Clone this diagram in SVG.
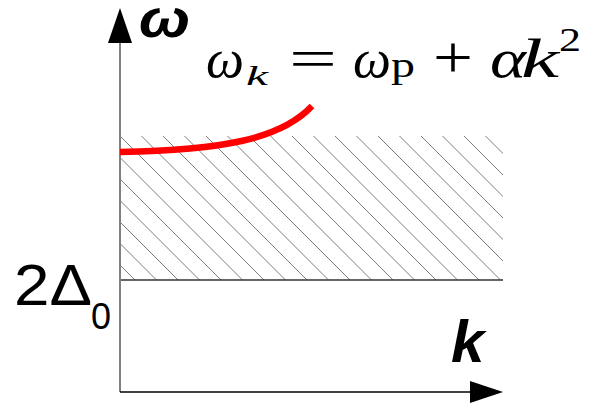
<svg xmlns="http://www.w3.org/2000/svg" width="590" height="403" viewBox="0 0 590 403">
<style>
.serif{font-family:"Liberation Serif","Times New Roman",serif;fill:#000}
.it{font-style:italic}
.sans{font-family:"Liberation Sans",Arial,sans-serif;fill:#000}
.bi{font-weight:bold;font-style:italic}
.hatch{stroke:#6e6e6e;stroke-width:0.9;fill:none}
</style>
<defs>
<clipPath id="band"><rect x="120" y="136" width="383" height="144"/></clipPath>
</defs>
<rect width="590" height="403" fill="#fff"/>
<g id="gap-region">
<path class="hatch" clip-path="url(#band)" d="M-40.5,126 l170,170 M-19,126 l170,170 M2.5,126 l170,170 M24,126 l170,170 M45.5,126 l170,170 M67,126 l170,170 M88.5,126 l170,170 M110,126 l170,170 M131.5,126 l170,170 M153,126 l170,170 M174.5,126 l170,170 M196,126 l170,170 M217.5,126 l170,170 M239,126 l170,170 M260.5,126 l170,170 M282,126 l170,170 M303.5,126 l170,170 M325,126 l170,170 M346.5,126 l170,170 M368,126 l170,170 M389.5,126 l170,170 M411,126 l170,170 M432.5,126 l170,170 M454,126 l170,170 M475.5,126 l170,170"/>
<line x1="120" y1="280" x2="503" y2="280" stroke="#333" stroke-width="1.5"/>
</g>
<g id="axes">
<line x1="120" y1="392" x2="120" y2="40" stroke="#808080" stroke-width="2"/>
<polygon points="120,8 108,43 132,43" fill="#000"/>
<line x1="120" y1="392" x2="472" y2="392" stroke="#000" stroke-width="1.5"/>
<polygon points="503,392 470,381 470,403" fill="#000"/>
</g>
<g id="dispersion">
<path d="M120,152 C220,150 280,140 312,106" fill="none" stroke="#ff0000" stroke-width="6.5"/>
</g>
<g id="labels">
<text class="sans bi" x="139" y="37" font-size="54" textLength="51" lengthAdjust="spacingAndGlyphs">ω</text>
<text class="sans bi" x="451" y="362" font-size="60">k</text>
<text class="sans" x="14" y="305" font-size="58" textLength="78" lengthAdjust="spacingAndGlyphs">2Δ</text>
<text class="sans" x="91" y="329" font-size="36">0</text>
</g>
<g id="formula">
<text class="serif it" x="206" y="77" font-size="54" textLength="38" lengthAdjust="spacingAndGlyphs">ω</text>
<text class="serif it" x="246" y="85" font-size="27" textLength="22" lengthAdjust="spacingAndGlyphs">k</text>
<text class="serif" x="289" y="77" font-size="54" textLength="48" lengthAdjust="spacingAndGlyphs">=</text>
<text class="serif it" x="353" y="77" font-size="54" textLength="38" lengthAdjust="spacingAndGlyphs">ω</text>
<text class="serif" x="391" y="77" font-size="36" textLength="24" lengthAdjust="spacingAndGlyphs">p</text>
<text class="serif" x="433" y="77" font-size="60" textLength="40" lengthAdjust="spacingAndGlyphs">+</text>
<text class="serif it" x="490" y="77" font-size="54" textLength="36" lengthAdjust="spacingAndGlyphs">α</text>
<text class="serif it" x="521" y="77" font-size="54" textLength="38" lengthAdjust="spacingAndGlyphs">k</text>
<text class="serif" x="559" y="51" font-size="33" textLength="22" lengthAdjust="spacingAndGlyphs">2</text>
</g>
</svg>
